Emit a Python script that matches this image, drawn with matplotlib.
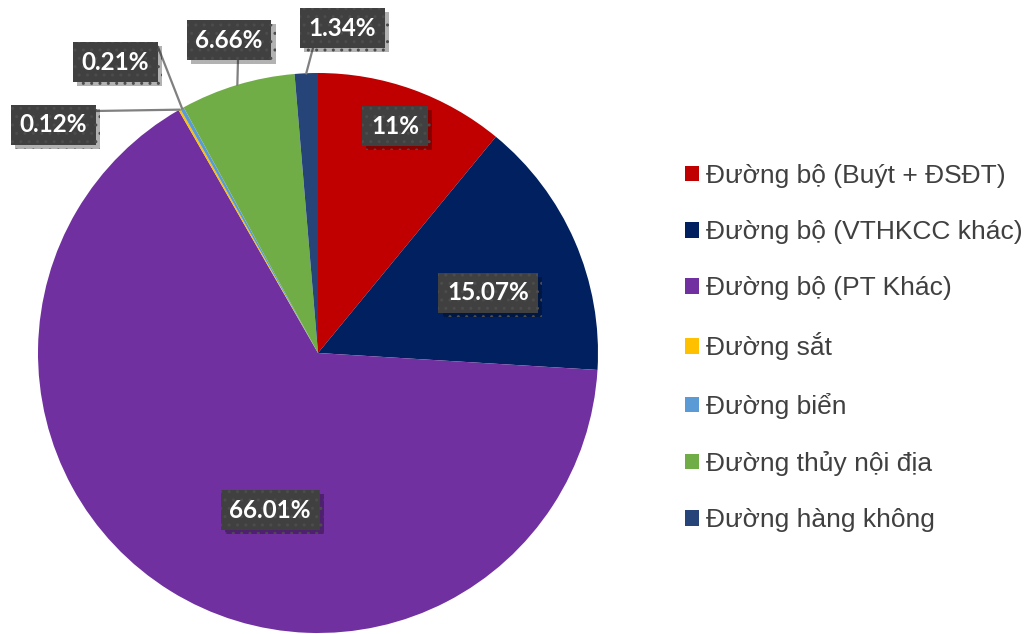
import numpy as np
import matplotlib
matplotlib.use("Agg")
import matplotlib.pyplot as plt
import matplotlib.patheffects as pe

categories = ["Đường bộ (Buýt + ĐSĐT)", "Đường bộ (VTHKCC khác)", "Đường bộ (PT Khác)",
              "Đường sắt", "Đường biển", "Đường thủy nội địa", "Đường hàng không"]
shares = [11, 15.07, 66.01, 0.12, 0.21, 6.66, 1.34]
share_labels = ["11%", "15.07%", "66.01%", "0.12%", "0.21%", "6.66%", "1.34%"]
colors = ["#C00000", "#002060", "#7030A0", "#FFC000", "#5B9BD5", "#70AD47", "#264478"]

W, H = 1029, 634
fig = plt.figure(figsize=(W / 100, H / 100), dpi=100)
ax = fig.add_axes([0, 0, 1, 1])

cx, cy, R = 318, H - 353, 280
wedges, _ = ax.pie(shares, colors=colors, startangle=90, counterclock=False,
                   center=(cx, cy), radius=R, frame=True)
ax.set_xlim(0, W)
ax.set_ylim(0, H)
ax.set_aspect("equal")
ax.axis("off")

# label box centres (pixel coords from top-left) and leader-line starts
label_pos = [(395, 126), (488, 293), (270, 510), (53, 125), (115, 62), (229, 40), (342, 28)]
leader_from = [None, None, None, (95, 111), (158, 47), (238, 60), (313, 48)]

for w, txt, (lx, ly), lf in zip(wedges, share_labels, label_pos, leader_from):
    if lf is not None:
        mid = np.deg2rad((w.theta1 + w.theta2) / 2)
        ex, ey = cx + R * np.cos(mid), cy + R * np.sin(mid)
        ax.plot([lf[0], ex], [H - lf[1], ey], color="#808080", lw=1.6, zorder=3)
    t = ax.text(lx, H - ly, txt, ha="center", va="center", fontsize=17.5,
                fontweight="bold", family="Lato", color="white",
                bbox=dict(boxstyle="square,pad=0.36", fc="#404040", ec="#4c4c4c",
                          lw=0, hatch=".."),
                zorder=5)
    t.get_bbox_patch().set_path_effects(
        [pe.SimplePatchShadow(offset=(3, -3), shadow_rgbFace="black", alpha=0.3),
         pe.Normal()])

leg = fig.legend(wedges, categories, loc="center left",
                 bbox_to_anchor=(685 / W, 1 - 348 / H), bbox_transform=fig.transFigure,
                 frameon=False, prop=dict(family="Liberation Sans", size=19),
                 labelcolor="#404040", handlelength=0.53, handleheight=0.53,
                 handletextpad=0.25, labelspacing=1.22, borderaxespad=0, borderpad=0)

fig.savefig("out.png", dpi=100)
